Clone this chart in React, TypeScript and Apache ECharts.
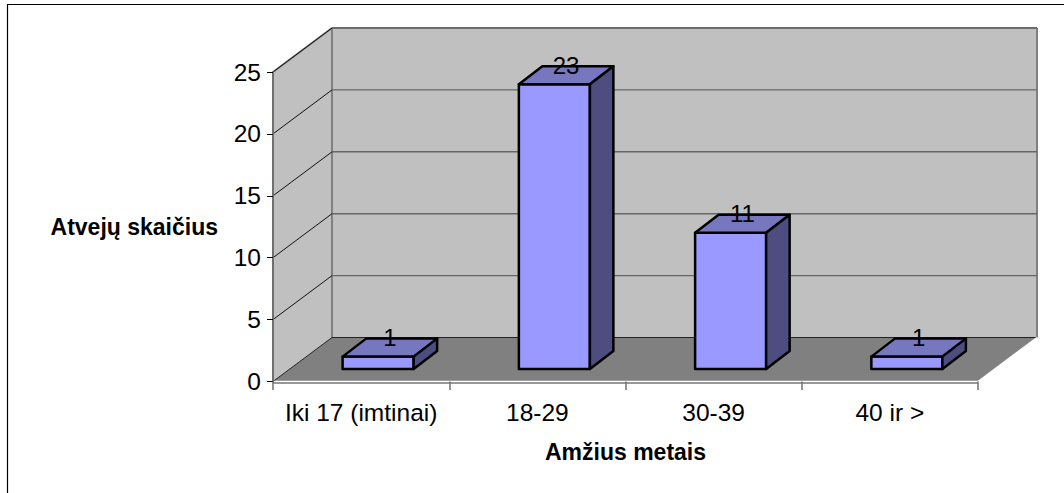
import React, { useEffect, useRef } from "react";
import * as echarts from "echarts";

const categories = ["Iki 17 (imtinai)", "18-29", "30-39", "40 ir >"];
const values = [1, 23, 11, 1];
const yTicks = [0, 5, 10, 15, 20, 25];
const xTitle = "Amžius metais";
const yTitle = "Atvejų skaičius";

const FONT = "Liberation Sans";
const LABEL_SIZE = 24.5;
const VALUE_SIZE = 24;
const TITLE_SIZE = 23;
const DEPTH_X = 59;
const DEPTH_Y = -44;
const BAR_FRONT_X = 17;
const BAR_FRONT_Y = -12.5;
const BAR_DEPTH_X = 23.5;
const BAR_DEPTH_Y = -18;
const BAR_WIDTH_RATIO = 0.403;

const poly = (points: number[][], style: any) => ({ type: "polygon", shape: { points }, style });
const seg = (a: number[], b: number[], stroke: string, lineWidth: number) => ({
  type: "line",
  shape: { x1: a[0], y1: a[1], x2: b[0], y2: b[1] },
  style: { stroke, lineWidth, fill: "none" },
});

export default function App() {
  const ref = useRef<HTMLDivElement>(null);
  useEffect(() => {
    document.body.style.margin = "0";
    const chart = echarts.init(ref.current!, undefined, { renderer: "svg" });
    const n = categories.length;
    const frontEdge = (api: any, v: number) => {
      const band = api.size([1, 0])[0];
      const l = api.coord([0, v]);
      const r = api.coord([n - 1, v]);
      return [[l[0] - band / 2, l[1]], [r[0] + band / 2, r[1]]];
    };
    const wallsRender = (_: any, api: any) => {
      const [a, br] = frontEdge(api, 0);
      const [c, tr] = frontEdge(api, 25);
      const d = (p: number[]) => [p[0] + DEPTH_X, p[1] + DEPTH_Y];
      const children: any[] = [
        poly([c, d(c), d(a), a], { fill: "#c0c0c0" }),
        poly([d(c), d(tr), d(br), d(a)], { fill: "#c0c0c0" }),
        poly([a, d(a), d(br), br], { fill: "#808080" }),
        seg(c, d(c), "#808080", 2),
        seg(d(c), d(tr), "#808080", 2),
        seg(d(c), d(a), "#808080", 2),
        seg(d(tr), d(br), "#808080", 2),
        seg(d(a), d(br), "#222222", 1),
        seg(a, d(a), "#222222", 1),
        seg(br, d(br), "#ffffff", 1.5),
        seg(a, br, "#ffffff", 1.5),
        seg([a[0], a[1] + 1.5], [br[0], br[1] + 1.5], "#333333", 1),
      ];
      return { type: "group", children };
    };
    const gridRender = (_: any, api: any) => {
      const v = api.value(1);
      const [p, e] = frontEdge(api, v);
      const q = [p[0] + DEPTH_X, p[1] + DEPTH_Y];
      const r = [e[0] + DEPTH_X, e[1] + DEPTH_Y];
      return {
        type: "group",
        children: [seg(p, q, "#111111", 1), seg(q, r, "#666666", 1.4)],
      };
    };
    const barRender = (_: any, api: any) => {
      const i = api.value(0);
      const v = api.value(1);
      const w = api.size([1, 0])[0] * BAR_WIDTH_RATIO;
      const base = api.coord([i, 0]);
      const top = api.coord([i, v]);
      const x0 = base[0] + BAR_FRONT_X - w / 2;
      const x1 = x0 + w;
      const yb = base[1] + BAR_FRONT_Y;
      const yt = top[1] + BAR_FRONT_Y;
      const dx = BAR_DEPTH_X;
      const dy = BAR_DEPTH_Y;
      const line = { stroke: "#000000", lineWidth: 2.5, lineJoin: "round" };
      return {
        type: "group",
        children: [
          poly([[x0, yt], [x1, yt], [x1, yb], [x0, yb]], { fill: "#9999ff", ...line }),
          poly([[x0, yt], [x0 + dx, yt + dy], [x1 + dx, yt + dy], [x1, yt]], { fill: "#7777bf", ...line }),
          poly([[x1, yt], [x1 + dx, yt + dy], [x1 + dx, yb + dy], [x1, yb]], { fill: "#4d4d80", ...line }),
          {
            type: "text",
            style: {
              text: String(v),
              x: (x0 + x1 + dx) / 2,
              y: yt + dy - 1,
              align: "center",
              verticalAlign: "middle",
              font: `${VALUE_SIZE}px "${FONT}"`,
              fill: "#000000",
            },
          },
        ],
      };
    };
    chart.setOption({
      animation: false,
      backgroundColor: "#ffffff",
      textStyle: { fontFamily: FONT },
      graphic: [
        {
          type: "rect",
          shape: { x: 7.5, y: 4.5, width: 1100, height: 600 },
          style: { fill: "none", stroke: "#000000", lineWidth: 1.2 },
          silent: true,
        },
      ],
      grid: { left: 273, top: 72, width: 705, height: 309.5 },
      xAxis: {
        type: "category",
        data: categories,
        z: 10,
        axisLine: { show: false },
        axisTick: { show: true, length: 8.5, lineStyle: { color: "#707070", width: 1.5 } },
        splitLine: { show: false },
        axisLabel: { color: "#000000", fontSize: LABEL_SIZE, fontFamily: FONT, margin: 18, interval: 0 },
        name: xTitle,
        nameLocation: "middle",
        nameGap: 59,
        nameTextStyle: { color: "#000000", fontSize: TITLE_SIZE, fontWeight: "bold", fontFamily: FONT },
      },
      yAxis: {
        type: "value",
        min: 0,
        max: 25,
        interval: 5,
        z: 10,
        axisLine: { show: true, lineStyle: { color: "#707070", width: 2 } },
        axisTick: { show: true, length: 6, lineStyle: { color: "#000000", width: 1 } },
        splitLine: { show: false },
        axisLabel: { color: "#000000", fontSize: LABEL_SIZE, fontFamily: FONT, margin: 12 },
        name: yTitle,
        nameLocation: "middle",
        nameRotate: 0,
        nameGap: 55,
        nameTextStyle: { color: "#000000", fontSize: TITLE_SIZE, fontWeight: "bold", fontFamily: FONT },
      },
      series: [
        { type: "custom", coordinateSystem: "cartesian2d", clip: false, silent: true, z: 1, data: [[0, 0]], renderItem: wallsRender, encode: { x: 0, y: 1 } },
        { type: "custom", coordinateSystem: "cartesian2d", clip: false, silent: true, z: 2, data: yTicks.slice(1).map((t) => [0, t]), renderItem: gridRender, encode: { x: 0, y: 1 } },
        { type: "custom", coordinateSystem: "cartesian2d", clip: false, silent: true, z: 3, data: values.map((v, i) => [i, v]), renderItem: barRender, encode: { x: 0, y: 1 } },
      ],
    });
    return () => chart.dispose();
  }, []);
  return <div ref={ref} style={{ position: "fixed", left: 0, top: 0, width: 1064, height: 493 }} />;
}
